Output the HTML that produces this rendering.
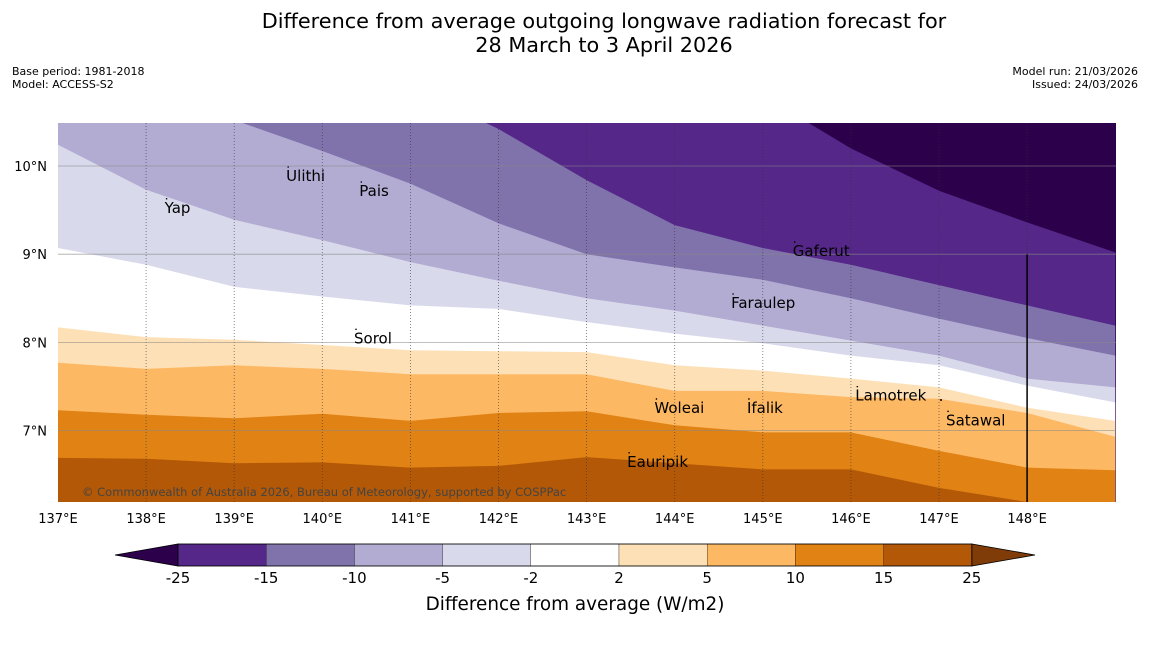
<!DOCTYPE html>
<html><head><meta charset="utf-8"><style>
body{margin:0;background:#fff;font-family:"DejaVu Sans","Liberation Sans",sans-serif;}
svg text{font-family:"DejaVu Sans","Liberation Sans",sans-serif;}
</style></head><body>
<svg id="c" width="1150" height="644" xmlns="http://www.w3.org/2000/svg">
<text x="604" y="28" font-size="20.8" text-anchor="middle">Difference from average outgoing longwave radiation forecast for</text>
<text x="604" y="52" font-size="20.8" text-anchor="middle">28 March to 3 April 2026</text>
<text x="12" y="75" font-size="11">Base period: 1981-2018</text>
<text x="12" y="88" font-size="11">Model: ACCESS-S2</text>
<text x="1138" y="75" font-size="11" text-anchor="end">Model run: 21/03/2026</text>
<text x="1138" y="88" font-size="11" text-anchor="end">Issued: 24/03/2026</text>
<g id="map"></g>
<g id="cb"></g>
<text x="575" y="610" font-size="18.4" text-anchor="middle">Difference from average (W/m2)</text>
</svg>
<script>
const lons=[137,138,139,140,141,142,143,144,145,146,147,148,149];
const lats=[7,8,9,10];
const levels=[-25,-15,-10,-5,-2,2,5,10,15,25];
const colors=["#2d004b","#542788","#8073ac","#b2abd2","#d8daeb","#ffffff","#fee0b6","#fdb863","#e08214","#b35806"];
const bLm25=[11.5,11.5,11.5,11.5,11.5,11.5,11.5,11.2,10.8,10.2,9.72,9.36,9.02];
const bLm15=[11.5,11.5,11.5,11.5,10.9,10.42,9.84,9.33,9.07,8.88,8.65,8.42,8.19];
const bLm10=[11.2,10.9,10.52,10.17,9.8,9.35,9.0,8.85,8.71,8.5,8.27,8.05,7.85];
const bLm5=[10.24,9.73,9.39,9.16,8.91,8.70,8.50,8.36,8.19,8.02,7.85,7.59,7.49];
const bLm2=[9.07,8.88,8.63,8.52,8.42,8.38,8.23,8.10,7.99,7.85,7.74,7.51,7.32];
const bL2=[8.17,8.06,8.03,7.97,7.91,7.90,7.89,7.74,7.68,7.59,7.49,7.26,7.11];
const bL5=[7.77,7.70,7.74,7.70,7.64,7.64,7.64,7.45,7.45,7.38,7.36,7.20,6.93];
const bL10=[7.23,7.18,7.14,7.19,7.11,7.20,7.22,7.06,6.98,6.98,6.77,6.58,6.55];
const bL15=[6.69,6.68,6.63,6.64,6.58,6.60,6.70,6.63,6.56,6.56,6.35,6.19,6.0];
const boundaries=[bLm25,bLm15,bLm10,bLm5,bLm2,bL2,bL5,bL10,bL15];
const islands=[["Yap",138.21,9.64],["Ulithi",139.59,10.0],["Pais",140.42,9.83],["Gaferut",145.34,9.15],["Faraulep",144.64,8.56],["Sorol",140.36,8.16],["Lamotrek",146.05,7.51],["Satawal",147.08,7.23],["Woleai",143.77,7.37],["Ifalik",144.82,7.37],["Eauripik",143.46,6.76]];
const X0=58,X1=1116,Y0=123,Y1=502;
const x=l=>58+(l-137)*88.1;
const y=t=>166+(10-t)*88.2;
const NS="http://www.w3.org/2000/svg";
function mk(tag,at,parent){const e=document.createElementNS(NS,tag);for(const k in at)e.setAttribute(k,at[k]);parent.appendChild(e);return e;}
const map=document.getElementById('map');
const defs=mk('defs',{},map);const cp=mk('clipPath',{id:'clip'},defs);mk('rect',{x:X0,y:Y0,width:X1-X0,height:Y1-Y0},cp);
const g=mk('g',{'clip-path':'url(#clip)'},map);
let r=mk('rect',{x:X0,y:Y0,width:X1-X0,height:Y1-Y0,fill:colors[0]},g);


boundaries.forEach((b,i)=>{
 let d='M'+x(lons[0])+','+(Y1+10);
 b.forEach((t,j)=>{d+=' L'+x(lons[j]).toFixed(1)+','+y(t).toFixed(1);});
 d+=' L'+x(lons[lons.length-1])+','+(Y1+10)+' Z';
 const p=mk('path',{d:d,fill:colors[i+1]},g);
 
 
});
lons.slice(1,12).forEach(l=>{const e=mk('line',{x1:x(l),x2:x(l),y1:Y0,y2:Y1,stroke:'#333','stroke-width':0.8,'stroke-dasharray':'1,2',opacity:0.7},g);
 
 });
lats.forEach(t=>{const e=mk('line',{x1:X0,x2:X1,y1:y(t),y2:y(t),stroke:'#888','stroke-width':0.8,opacity:0.7},g);
 
 
 const tx=mk('text',{x:47,y:y(t)+5,'font-size':13,'text-anchor':'end'},map);tx.textContent=t+'°N';
 
 });
lons.slice(0,12).forEach(l=>{const tx=mk('text',{x:x(l),y:523,'font-size':13,'text-anchor':'middle'},map);tx.textContent=l+'°E';
 
 });
const vl=mk('line',{x1:x(148),x2:x(148),y1:y(9),y2:Y1,stroke:'#000','stroke-width':1.5},g);


islands.forEach(s=>{const tx=mk('text',{x:x(s[1]),y:y(s[2])+15,'font-size':15},map);tx.textContent=s[0];
 
 
 mk('circle',{cx:x(s[1])+2,cy:y(s[2])+1,r:0.8,fill:'#000'},map);});
mk('circle',{cx:941,cy:400,r:1,fill:'#000'},map);
const ct=mk('text',{x:82,y:496,'font-size':11.5,fill:'#444'},map);ct.textContent='© Commonwealth of Australia 2026, Bureau of Meteorology, supported by COSPPac';


// colorbar
const cb=document.getElementById('cb');
const cx0=178,cw=88.2,cy0=544,ch=22;
mk('polygon',{points:`${cx0},${cy0} ${cx0},${cy0+ch} 115,${cy0+ch/2}`,fill:colors[0],stroke:'#000','stroke-width':0.8},cb);
const n=levels.length-1;
mk('polygon',{points:`${cx0+n*cw},${cy0} ${cx0+n*cw},${cy0+ch} 1035,${cy0+ch/2}`,fill:'#7f3b08',stroke:'#000','stroke-width':0.8},cb);
for(let i=0;i<n;i++){const e=mk('rect',{x:cx0+i*cw,y:cy0,width:cw,height:ch,fill:colors[i+1],stroke:'#000','stroke-width':0.3},cb);
 
 }
mk('rect',{x:cx0,y:cy0,width:n*cw,height:ch,fill:'none',stroke:'#000','stroke-width':0.8},cb);
levels.forEach((v,i)=>{const tx=mk('text',{x:cx0+i*cw,y:583,'font-size':15,'text-anchor':'middle'},cb);tx.textContent=v;
 
 });
</script>
</body></html>
